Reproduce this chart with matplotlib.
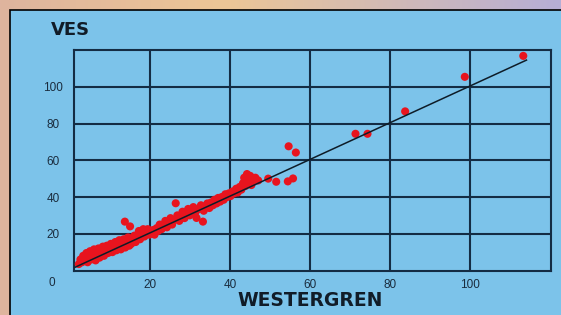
import numpy as np
import matplotlib.pyplot as plt
from matplotlib.patches import Rectangle

# Westergren vs VES readings
westergren = [2.2, 2.6, 3.0, 3.3, 3.6, 4.1, 4.4, 4.8, 5.0, 5.3, 5.7, 6.0, 6.4, 6.8,
              7.1, 7.4, 7.9, 8.2, 8.5, 8.9, 9.2, 9.5, 9.9, 10.2, 10.6, 10.9, 11.3,
              11.6, 12.0, 12.3, 12.7, 13.0, 13.4, 13.8, 14.1, 14.5, 14.8, 13.7, 15.0,
              15.3, 15.7, 16.1, 16.4, 16.8, 17.2, 17.5, 17.9, 18.3, 18.6, 19.0, 19.4,
              19.8, 20.2, 20.7, 21.1, 21.6, 22.0, 22.4, 22.9, 23.3, 23.8, 24.2, 24.6,
              25.1, 25.5, 26.0, 26.4, 26.8, 27.3, 27.7, 28.1, 28.6, 29.0, 29.5, 29.9,
              30.4, 30.8, 31.3, 31.6, 33.2, 32.2, 32.7, 33.4, 33.9, 34.3, 34.8, 35.2,
              35.7, 36.1, 36.6, 37.0, 37.5, 37.9, 38.4, 38.8, 39.3, 39.7, 40.1, 40.6,
              41.0, 41.5, 41.9, 42.4, 42.8, 43.2, 43.5, 43.8, 44.2, 44.6, 45.0, 45.3,
              45.8, 46.3, 47.0, 49.5, 51.5, 54.4, 55.7, 54.6, 56.4, 71.3, 74.3, 83.7,
              98.6, 113.2]
ves = [3.5, 6.0, 4.5, 8.0, 5.5, 9.5, 4.5, 7.5, 10.5, 6.0, 9.0, 11.5, 5.5, 8.5,
       12.0, 7.0, 10.5, 13.0, 8.0, 11.5, 13.5, 9.5, 12.5, 14.5, 10.0, 13.5, 15.5,
       11.0, 14.0, 16.5, 11.5, 15.0, 17.0, 12.5, 16.0, 18.0, 13.5, 26.6, 24.0,
       14.5, 17.5, 19.0, 15.5, 18.5, 21.5, 17.0, 20.5, 22.5, 18.5, 21.5, 22.5,
       19.5, 21.0, 22.0, 19.5, 23.0, 21.5, 25.0, 22.5, 24.5, 27.0, 23.5, 26.5,
       28.5, 25.0, 27.5, 36.6, 30.0, 27.0, 29.5, 32.0, 28.5, 31.0, 33.5, 30.0,
       32.5, 34.5, 31.5, 28.6, 26.6, 33.5, 35.5, 32.5, 34.5, 36.5, 34.0, 37.0,
       35.5, 38.5, 36.5, 39.5, 37.5, 40.0, 38.5, 41.5, 40.0, 42.0, 40.5, 43.0,
       42.0, 44.5, 42.5, 45.5, 44.0, 47.5, 50.5, 46.0, 52.5, 48.5, 51.5, 46.5,
       49.0, 50.5, 49.0, 50.0, 48.3, 48.5, 50.1, 67.6, 64.2, 74.4, 74.4, 86.6,
       105.4, 116.8]

# regression line
fit_x = [1.3, 114.0]
fit_slope = 1.0
fit_intercept = 0.5

x_ticks = [20, 40, 60, 80, 100]
y_ticks = [20, 40, 60, 80, 100]

W, H = 561, 315
fig = plt.figure(figsize=(W / 100, H / 100), dpi=100)

# gradient frame behind the panel
bg = fig.add_axes([0, 0, 1, 1])
bg.set_axis_off()
left_c = np.array([222, 180, 158]) / 255
mid_c = np.array([237, 198, 150]) / 255
right_c = np.array([182, 174, 214]) / 255
t = np.linspace(0, 1, 200)[:, None]
row = np.where(t < 0.4, left_c + (mid_c - left_c) * (t / 0.4),
               mid_c + (right_c - mid_c) * ((t - 0.4) / 0.6))
bg.imshow(row[None, :, :], aspect='auto', extent=[0, 1, 0, 1])
bg.set_xlim(0, 1)
bg.set_ylim(0, 1)

blue = '#7cc3ea'
dark = '#142c44'
bg.add_patch(Rectangle((10 / W, -0.05), 1.1, (H - 10) / H + 0.05,
                       facecolor=blue, edgecolor='black', lw=1.2, clip_on=False))

ax = fig.add_axes([74 / W, (H - 270.5) / H, (550.5 - 74) / W, (270.5 - 50) / H])
ax.set_facecolor('none')
ax.scatter(westergren, ves, s=34, color='#e8141e', edgecolors='none', zorder=3)
fx = np.array(fit_x)
ax.plot(fx, fit_intercept + fit_slope * fx, color='#0e1c28', lw=1.1, zorder=4)

ax.set_xlim(1, 120)
ax.set_ylim(0, 120)
ax.set_xticks(x_ticks)
ax.set_yticks(y_ticks)
ax.grid(True, color=dark, lw=1.5, zorder=1)
ax.set_axisbelow(True)
for s in ax.spines.values():
    s.set_color(dark)
    s.set_linewidth(1.5)

tick_font = dict(family='Liberation Sans', size=8.5)
ax.tick_params(axis='both', length=0, colors='#1a2c3e')
ax.tick_params(axis='y', pad=15)
ax.tick_params(axis='x', pad=6)
for lab in ax.get_xticklabels():
    lab.set_fontfamily('Liberation Sans')
    lab.set_fontsize(8.5)
for lab in ax.get_yticklabels():
    lab.set_fontfamily('Liberation Sans')
    lab.set_fontsize(8.5)
    lab.set_horizontalalignment('center')

fig.text(52 / W, 1 - 283 / H, '0', ha='center', va='center', color='#1a2c3e', **tick_font)
fig.text(70 / W, 1 - 30 / H, 'VES', ha='center', va='center', color='#111c28',
         fontsize=13, fontweight='bold', family='DejaVu Sans')
fig.text(310 / W, 1 - 300 / H, 'WESTERGREN', ha='center', va='center',
         color='#111c28', fontsize=13.5, fontweight='bold', family='DejaVu Sans')

fig.savefig('out.png', dpi=100)
